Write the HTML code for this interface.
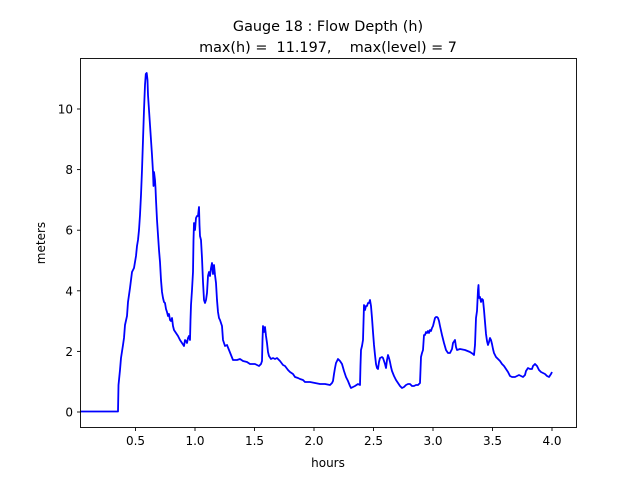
<!DOCTYPE html>
<html><head><meta charset="utf-8"><style>
html,body{margin:0;padding:0;background:#fff;}
svg{display:block;font-family:"DejaVu Sans","Liberation Sans",sans-serif;}
</style></head><body>
<svg width="640" height="480" viewBox="0 0 640 480" xmlns="http://www.w3.org/2000/svg">
<rect width="640" height="480" fill="#fff"/>
<text x="328" y="31" font-size="14.4" text-anchor="middle" fill="#000">Gauge 18 : Flow Depth (h)</text>
<text x="328" y="52" font-size="14.4" text-anchor="middle" fill="#000" xml:space="preserve">max(h) =  11.197,    max(level) = 7</text>
<polyline fill="none" stroke="#0000ff" stroke-width="1.8" stroke-linejoin="round" points="
80,411.5 117,411.5 118,383 121,358 124,338 127,318 129,301 131,290 134,270 136,261 138,250 139,242 141,236 143,227 146,207 148,182 150,150 152,120 143.5,120 
" opacity="0"/>
<polyline fill="none" stroke="#0000ff" stroke-width="1.8" stroke-linejoin="round" points="
80,411.5 118,411.5 118.5,385 120,370 121,358 123,345 124,338 125,325 127,316 128,302 129,295 130,288 131,280 132,272 134,268 135,262 136,256 137,246 138,240 139,230 140,215 141,195 142,170 143,140 144,110 145,85 145.8,74 146.7,73 147.5,80 148,95 149,110 150,125 151,140 152,155 153,172 153.5,186 154,172 155,180 155.5,188 156,200 157,220 158,235 159,250 160,262 161,280 162,292 163,298 164,302 165,303 166,309 167,312 168,316 169,314 170,320 171,321 172,318 173,326 174,330 176,333 178,336 180,340 182,343 184,346 185,340 186,341 187,343 188,338 189,336 190,340 190.5,320 191,305 192,290 193,272 193.5,240 194,223 195,230 196,218 197,216 198,216 199,207 199.5,225 200,236 201,240 202,258 203,282 204,300 205,303 206,300 207,293 208,276 209,272 210,276 211,268 212,263 213,274 214,265 215,275 216,283 217,300 218,312 219,318 220,320 222,326 223,340 225,346 227,345 229,350 231,355 233,360 237,360 240,359 243,361 247,362 250,364 255,364 259,366 261,364 262,361 262.5,340 263,326 264,332 265,327 266,336 267,343 268,352 269,356 271,359 273,358 275,359 277,358 280,361 283,365 285,366 288,370 290,372 293,374 295,377 298,378 300,379 303,380 305,382 310,382 315,383 320,384 325,384 330,385 332,383 333,381 334,374 335,368 336,363 338,359 340,361 342,364 344,371 346,377 348,381 350,386 351,388 353,387 355,386 358,384 360,385 360.5,365 361,350 362,346 363,340 364,305 365,310 366,306 367,306 368,303 369,303 370,300 371,306 372,318 373,332 374,345 375,355 376,364 377,368 378,369 379,362 380,358 382,357 383,358 384,361 385,364 386,368 387,360 388,355 389,358 390,362 391,367 392,371 394,376 396,380 398,383 400,386 402,388 404,387 406,385 408,384 410,384 412,386 414,386 416,385 418,385 420,383 420.5,370 421,357 422,353 423,350 424,335 425,335 426,332 427,333 428,331 429,333 430,330 431,331 432,328 433,326 434,322 435,318 436,317 437,317 438,318 439,321 440,326 442,335 444,343 446,350 448,353 450,353 452,349 453,343 455,340 456,347 457,350 460,349 465,350 470,352 473,354 474,355 475,345 476,318 477,311 478,290 478.5,285 479,298 480,297 481,302 482,299 483,300 484,310 485,322 486,334 487,341 488,345 489,342 490,338 491,340 492,344 493,349 494,353 496,357 498,359 500,361 502,364 504,366 506,369 508,372 510,376 512,377 515,377 517,376 519,375 521,376 523,377 525,375 526,371 528,368 530,369 532,369 533,366 535,364 537,366 539,370 541,372 543,373 545,374 547,376 549,377 551,374 552,372"/>
<rect x="80.5" y="58.5" width="496" height="369" fill="none" stroke="#000" stroke-width="0.9"/>
<g stroke="#000" stroke-width="0.9">
<line x1="135.5" y1="427.5" x2="135.5" y2="431"/>
<line x1="195" y1="427.5" x2="195" y2="431"/>
<line x1="254.5" y1="427.5" x2="254.5" y2="431"/>
<line x1="314" y1="427.5" x2="314" y2="431"/>
<line x1="373.5" y1="427.5" x2="373.5" y2="431"/>
<line x1="433" y1="427.5" x2="433" y2="431"/>
<line x1="492.5" y1="427.5" x2="492.5" y2="431"/>
<line x1="552" y1="427.5" x2="552" y2="431"/>
<line x1="77" y1="412" x2="80.5" y2="412"/>
<line x1="77" y1="351.4" x2="80.5" y2="351.4"/>
<line x1="77" y1="290.8" x2="80.5" y2="290.8"/>
<line x1="77" y1="230.2" x2="80.5" y2="230.2"/>
<line x1="77" y1="169.6" x2="80.5" y2="169.6"/>
<line x1="77" y1="109" x2="80.5" y2="109"/>
</g>
<g font-size="12" fill="#000" text-anchor="middle">
<text x="135.5" y="445">0.5</text>
<text x="195" y="445">1.0</text>
<text x="254.5" y="445">1.5</text>
<text x="314" y="445">2.0</text>
<text x="373.5" y="445">2.5</text>
<text x="433" y="445">3.0</text>
<text x="492.5" y="445">3.5</text>
<text x="552" y="445">4.0</text>
<text x="328" y="467">hours</text>
</g>
<g font-size="12" fill="#000" text-anchor="end">
<text x="73" y="416.5">0</text>
<text x="73" y="355.9">2</text>
<text x="73" y="295.3">4</text>
<text x="73" y="234.7">6</text>
<text x="73" y="174.1">8</text>
<text x="73" y="113.5">10</text>
</g>
<text x="45" y="243" font-size="12" text-anchor="middle" transform="rotate(-90 45 243)">meters</text>
</svg>
</body></html>
